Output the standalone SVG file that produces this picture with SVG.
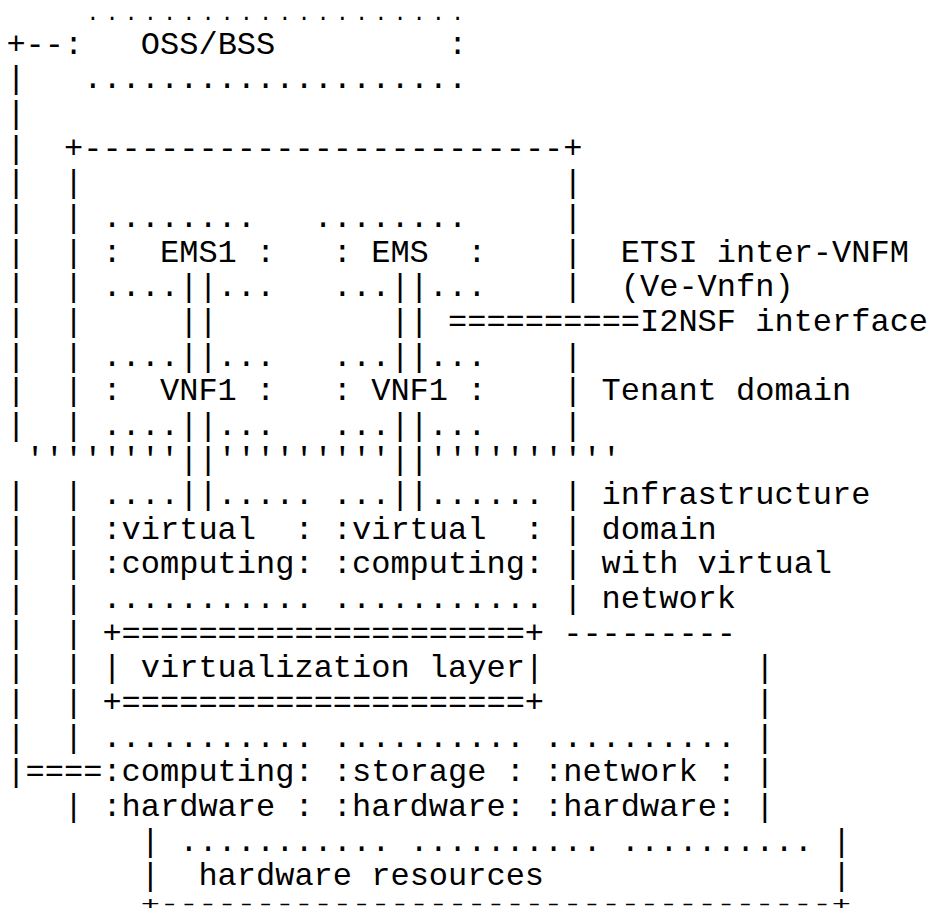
<svg xmlns="http://www.w3.org/2000/svg" width="930" height="916" viewBox="0 0 930 916">
<style>
text { font-family: "Liberation Mono", "Courier New", "DejaVu Sans Mono", monospace; font-size: 32px; fill: #000; white-space: pre; }
text.small-dots { font-size: 22px; letter-spacing: 6px; }
</style>
<rect width="930" height="916" fill="#fff"/>

<g id="connectors">
  <text xml:space="preserve" x="6.4" y="53.65">+--</text>
  <text><tspan x="6.4" y="88.3">|</tspan><tspan x="6.4" y="122.95">|</tspan><tspan x="6.4" y="157.6">|</tspan><tspan x="6.4" y="192.25">|</tspan><tspan x="6.4" y="226.9">|</tspan><tspan x="6.4" y="261.55">|</tspan><tspan x="6.4" y="296.2">|</tspan><tspan x="6.4" y="330.85">|</tspan><tspan x="6.4" y="365.5">|</tspan><tspan x="6.4" y="400.15">|</tspan><tspan x="6.4" y="434.8">|</tspan><tspan x="6.4" y="504.1">|</tspan><tspan x="6.4" y="538.75">|</tspan><tspan x="6.4" y="573.4">|</tspan><tspan x="6.4" y="608.05">|</tspan><tspan x="6.4" y="642.7">|</tspan><tspan x="6.4" y="677.35">|</tspan><tspan x="6.4" y="712">|</tspan><tspan x="6.4" y="746.65">|</tspan></text>
  <text x="6.4" y="781.3">|====</text>
  <text><tspan x="179.2" y="296.2">||</tspan><tspan x="179.2" y="330.85">||</tspan><tspan x="179.2" y="365.5">||</tspan><tspan x="179.2" y="434.8">||</tspan><tspan x="179.2" y="469.45">||</tspan><tspan x="179.2" y="504.1">||</tspan></text>
  <text><tspan x="390.4" y="296.2">||</tspan><tspan x="390.4" y="330.85">||</tspan><tspan x="390.4" y="365.5">||</tspan><tspan x="390.4" y="434.8">||</tspan><tspan x="390.4" y="469.45">||</tspan><tspan x="390.4" y="504.1">||</tspan></text>
  <text x="448" y="330.85">==========</text>
</g>

<g id="oss-bss">
  <text class="small-dots" x="86.2" y="19.5">....................</text>
  <text xml:space="preserve" x="64" y="53.65">:   OSS/BSS         :</text>
  <text x="83.2" y="88.3">....................</text>
</g>

<g id="nfv-box">
  <text x="64" y="157.6">+-------------------------+</text>
  <text><tspan x="64" y="192.25">|</tspan><tspan x="64" y="226.9">|</tspan><tspan x="64" y="261.55">|</tspan><tspan x="64" y="296.2">|</tspan><tspan x="64" y="330.85">|</tspan><tspan x="64" y="365.5">|</tspan><tspan x="64" y="400.15">|</tspan><tspan x="64" y="434.8">|</tspan><tspan x="64" y="504.1">|</tspan><tspan x="64" y="538.75">|</tspan><tspan x="64" y="573.4">|</tspan><tspan x="64" y="608.05">|</tspan><tspan x="64" y="642.7">|</tspan><tspan x="64" y="677.35">|</tspan><tspan x="64" y="712">|</tspan><tspan x="64" y="746.65">|</tspan><tspan x="64" y="815.95">|</tspan></text>
  <text><tspan x="563.2" y="192.25">|</tspan><tspan x="563.2" y="226.9">|</tspan><tspan x="563.2" y="261.55">|</tspan><tspan x="563.2" y="296.2">|</tspan><tspan x="563.2" y="365.5">|</tspan><tspan x="563.2" y="400.15">|</tspan><tspan x="563.2" y="434.8">|</tspan><tspan x="563.2" y="504.1">|</tspan><tspan x="563.2" y="538.75">|</tspan><tspan x="563.2" y="573.4">|</tspan><tspan x="563.2" y="608.05">|</tspan></text>
</g>

<g id="ems1">
  <text x="102.4" y="226.9">........</text>
  <text xml:space="preserve" x="102.4" y="261.55">:  EMS1 :</text>
  <text x="102.4" y="296.2">....</text>
  <text x="217.6" y="296.2">...</text>
</g>

<g id="ems2">
  <text x="313.6" y="226.9">........</text>
  <text xml:space="preserve" x="332.8" y="261.55">: EMS  :</text>
  <text x="332.8" y="296.2">...</text>
  <text x="428.8" y="296.2">...</text>
</g>

<g id="vnf1-a">
  <text x="102.4" y="365.5">....</text>
  <text x="217.6" y="365.5">...</text>
  <text xml:space="preserve" x="102.4" y="400.15">:  VNF1 :</text>
  <text x="102.4" y="434.8">....</text>
  <text x="217.6" y="434.8">...</text>
</g>

<g id="vnf1-b">
  <text x="332.8" y="365.5">...</text>
  <text x="428.8" y="365.5">...</text>
  <text xml:space="preserve" x="332.8" y="400.15">: VNF1 :</text>
  <text x="332.8" y="434.8">...</text>
  <text x="428.8" y="434.8">...</text>
</g>

<g id="domain-boundary">
  <text x="25.6" y="469.45">''''''''</text>
  <text x="217.6" y="469.45">'''''''''</text>
  <text x="428.8" y="469.45">''''''''''</text>
</g>

<g id="virtual-computing-1">
  <text x="102.4" y="504.1">....</text>
  <text x="217.6" y="504.1">.....</text>
  <text xml:space="preserve" x="102.4" y="538.75">:virtual  :</text>
  <text x="102.4" y="573.4">:computing:</text>
  <text x="102.4" y="608.05">...........</text>
</g>

<g id="virtual-computing-2">
  <text x="332.8" y="504.1">...</text>
  <text x="428.8" y="504.1">......</text>
  <text xml:space="preserve" x="332.8" y="538.75">:virtual  :</text>
  <text x="332.8" y="573.4">:computing:</text>
  <text x="332.8" y="608.05">...........</text>
</g>

<g id="virtualization-layer">
  <text x="102.4" y="642.7">+=====================+</text>
  <text xml:space="preserve" x="102.4" y="677.35">| virtualization layer|</text>
  <text x="102.4" y="712">+=====================+</text>
</g>

<g id="infrastructure-boundary">
  <text x="563.2" y="642.7">---------</text>
  <text><tspan x="755.2" y="677.35">|</tspan><tspan x="755.2" y="712">|</tspan><tspan x="755.2" y="746.65">|</tspan><tspan x="755.2" y="781.3">|</tspan><tspan x="755.2" y="815.95">|</tspan></text>
</g>

<g id="computing-hardware">
  <text x="102.4" y="746.65">...........</text>
  <text x="102.4" y="781.3">:computing:</text>
  <text xml:space="preserve" x="102.4" y="815.95">:hardware :</text>
</g>

<g id="storage-hardware">
  <text x="332.8" y="746.65">..........</text>
  <text xml:space="preserve" x="332.8" y="781.3">:storage :</text>
  <text x="332.8" y="815.95">:hardware:</text>
</g>

<g id="network-hardware">
  <text x="544" y="746.65">..........</text>
  <text xml:space="preserve" x="544" y="781.3">:network :</text>
  <text x="544" y="815.95">:hardware:</text>
</g>

<g id="hardware-resources">
  <text><tspan x="140.8" y="850.6">|</tspan><tspan x="140.8" y="885.25">|</tspan><tspan x="832" y="850.6">|</tspan><tspan x="832" y="885.25">|</tspan></text>
  <text x="179.2" y="850.6">...........</text>
  <text x="409.6" y="850.6">..........</text>
  <text x="620.8" y="850.6">..........</text>
  <text x="198.4" y="885.25">hardware resources</text>
  <text x="140.8" y="0" transform="translate(0,910) scale(1,0.6)">+-----------------------------------+</text>
</g>

<g id="label-etsi">
  <text x="620.8" y="261.55">ETSI inter-VNFM</text>
  <text x="620.8" y="296.2">(Ve-Vnfn)</text>
</g>

<g id="label-i2nsf">
  <text x="640" y="330.85">I2NSF interface</text>
</g>

<g id="label-tenant">
  <text x="601.6" y="400.15">Tenant domain</text>
</g>

<g id="label-infrastructure">
  <text x="601.6" y="504.1">infrastructure</text>
  <text x="601.6" y="538.75">domain</text>
  <text x="601.6" y="573.4">with virtual</text>
  <text x="601.6" y="608.05">network</text>
</g>
</svg>
